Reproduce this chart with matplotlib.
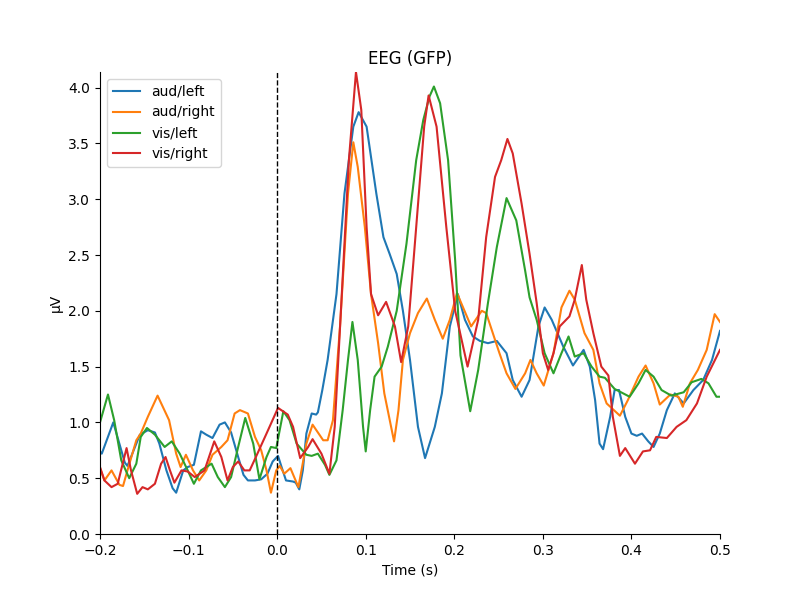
import matplotlib
matplotlib.use("Agg")
import matplotlib.pyplot as plt

# GFP traces (time in s, value in uV)
aud_left_t = [-0.200, -0.198, -0.185, -0.172, -0.169, -0.155, -0.146, -0.138, -0.133, -0.125,
              -0.118, -0.114, -0.106, -0.101, -0.094, -0.086, -0.080, -0.073, -0.065, -0.059,
              -0.052, -0.044, -0.038, -0.033, -0.025, -0.018, -0.011, -0.005, 0.001, 0.005,
              0.010, 0.018, 0.021, 0.025, 0.029, 0.033, 0.039, 0.044, 0.046, 0.051,
              0.057, 0.067, 0.076, 0.086, 0.092, 0.101, 0.112, 0.120, 0.127, 0.135,
              0.142, 0.150, 0.159, 0.167, 0.178, 0.186, 0.195, 0.204, 0.212, 0.221,
              0.229, 0.238, 0.248, 0.259, 0.266, 0.276, 0.285, 0.295, 0.302, 0.310,
              0.323, 0.334, 0.346, 0.353, 0.359, 0.364, 0.368, 0.376, 0.381, 0.386,
              0.393, 0.400, 0.406, 0.412, 0.419, 0.425, 0.432, 0.440, 0.449, 0.459,
              0.470, 0.481, 0.491, 0.500]
aud_left_v = [0.74, 0.72, 1.00, 0.64, 0.61, 0.89, 0.93, 0.91, 0.81, 0.57,
              0.41, 0.37, 0.57, 0.60, 0.62, 0.92, 0.89, 0.86, 0.98, 1.00,
              0.91, 0.69, 0.53, 0.48, 0.48, 0.49, 0.54, 0.65, 0.70, 0.60,
              0.48, 0.47, 0.46, 0.40, 0.57, 0.90, 1.08, 1.07, 1.09, 1.29,
              1.56, 2.15, 3.05, 3.65, 3.78, 3.65, 3.05, 2.66, 2.51, 2.33,
              2.00, 1.56, 0.96, 0.68, 0.96, 1.26, 1.86, 2.15, 1.92, 1.77,
              1.73, 1.71, 1.73, 1.62, 1.38, 1.23, 1.38, 1.86, 2.03, 1.92,
              1.68, 1.51, 1.65, 1.50, 1.20, 0.81, 0.76, 1.05, 1.29, 1.29,
              1.05, 0.90, 0.88, 0.90, 0.83, 0.78, 0.90, 1.11, 1.26, 1.17,
              1.29, 1.38, 1.56, 1.82]

aud_right_t = [-0.200, -0.195, -0.187, -0.178, -0.174, -0.169, -0.159, -0.154, -0.146, -0.135,
               -0.122, -0.114, -0.109, -0.103, -0.095, -0.088, -0.080, -0.073, -0.063, -0.056,
               -0.048, -0.042, -0.033, -0.025, -0.018, -0.012, -0.007, -0.001, 0.003, 0.008,
               0.015, 0.024, 0.033, 0.040, 0.052, 0.057, 0.063, 0.071, 0.080, 0.086,
               0.091, 0.099, 0.106, 0.114, 0.121, 0.132, 0.137, 0.142, 0.150, 0.159,
               0.169, 0.178, 0.187, 0.195, 0.203, 0.219, 0.231, 0.236, 0.251, 0.259,
               0.269, 0.280, 0.286, 0.293, 0.301, 0.312, 0.321, 0.330, 0.336, 0.347,
               0.357, 0.364, 0.372, 0.387, 0.396, 0.408, 0.416, 0.425, 0.432, 0.444,
               0.453, 0.458, 0.466, 0.475, 0.485, 0.494, 0.500]
aud_right_v = [0.59, 0.48, 0.57, 0.44, 0.43, 0.57, 0.84, 0.90, 1.05, 1.24,
               1.02, 0.72, 0.60, 0.71, 0.57, 0.48, 0.57, 0.71, 0.78, 0.84,
               1.08, 1.11, 1.08, 0.87, 0.75, 0.57, 0.37, 0.57, 0.61, 0.54,
               0.59, 0.42, 0.81, 0.98, 0.84, 0.84, 1.02, 1.86, 3.05, 3.51,
               3.29, 2.75, 2.15, 1.71, 1.26, 0.83, 1.11, 1.56, 1.80, 1.98,
               2.11, 1.92, 1.75, 1.92, 2.16, 1.86, 2.00, 1.98, 1.62, 1.44,
               1.30, 1.44, 1.56, 1.44, 1.33, 1.62, 2.03, 2.18, 2.10, 1.80,
               1.65, 1.35, 1.17, 1.06, 1.20, 1.41, 1.51, 1.35, 1.16, 1.25,
               1.23, 1.14, 1.35, 1.47, 1.65, 1.97, 1.90]

vis_left_t = [-0.200, -0.191, -0.184, -0.176, -0.167, -0.159, -0.154, -0.147, -0.138, -0.127,
              -0.119, -0.110, -0.101, -0.094, -0.086, -0.074, -0.067, -0.059, -0.052, -0.044,
              -0.036, -0.027, -0.020, -0.012, -0.007, -0.001, 0.007, 0.014, 0.022, 0.033,
              0.039, 0.046, 0.054, 0.059, 0.067, 0.074, 0.080, 0.085, 0.091, 0.097,
              0.100, 0.105, 0.110, 0.118, 0.125, 0.135, 0.146, 0.157, 0.165, 0.172,
              0.177, 0.184, 0.193, 0.201, 0.207, 0.218, 0.227, 0.238, 0.248, 0.259,
              0.270, 0.280, 0.285, 0.293, 0.302, 0.312, 0.321, 0.329, 0.336, 0.346,
              0.355, 0.364, 0.370, 0.381, 0.398, 0.408, 0.416, 0.425, 0.434, 0.445,
              0.459, 0.468, 0.479, 0.487, 0.496, 0.500]
vis_left_v = [1.00, 1.25, 1.02, 0.66, 0.50, 0.63, 0.87, 0.95, 0.89, 0.78,
              0.83, 0.72, 0.57, 0.45, 0.57, 0.63, 0.51, 0.42, 0.51, 0.78,
              1.04, 0.81, 0.49, 0.69, 0.78, 0.77, 1.10, 1.02, 0.81, 0.71,
              0.70, 0.72, 0.62, 0.53, 0.66, 1.11, 1.56, 1.90, 1.56, 0.96,
              0.74, 1.11, 1.41, 1.50, 1.68, 2.00, 2.60, 3.35, 3.71, 3.92,
              4.01, 3.86, 3.35, 2.45, 1.60, 1.10, 1.47, 2.07, 2.57, 3.01,
              2.81, 2.36, 2.12, 1.92, 1.62, 1.44, 1.62, 1.77, 1.59, 1.62,
              1.50, 1.41, 1.40, 1.30, 1.23, 1.35, 1.47, 1.41, 1.29, 1.24,
              1.27, 1.36, 1.39, 1.35, 1.23, 1.23]

vis_right_t = [-0.200, -0.195, -0.187, -0.180, -0.170, -0.165, -0.158, -0.152, -0.146, -0.138,
               -0.131, -0.126, -0.121, -0.116, -0.108, -0.101, -0.093, -0.082, -0.071, -0.063,
               -0.056, -0.050, -0.044, -0.037, -0.031, -0.024, -0.012, 0.001, 0.012, 0.018,
               0.026, 0.035, 0.040, 0.050, 0.059, 0.065, 0.073, 0.081, 0.089, 0.095,
               0.101, 0.106, 0.114, 0.123, 0.133, 0.140, 0.148, 0.157, 0.166, 0.171,
               0.180, 0.191, 0.201, 0.215, 0.227, 0.236, 0.246, 0.253, 0.260, 0.266,
               0.276, 0.285, 0.293, 0.300, 0.306, 0.312, 0.319, 0.330, 0.336, 0.344,
               0.349, 0.357, 0.366, 0.374, 0.379, 0.387, 0.393, 0.404, 0.413, 0.421,
               0.428, 0.440, 0.451, 0.462, 0.474, 0.485, 0.500]
vis_right_v = [0.60, 0.48, 0.42, 0.45, 0.77, 0.57, 0.36, 0.42, 0.40, 0.45,
               0.63, 0.69, 0.57, 0.46, 0.57, 0.56, 0.51, 0.57, 0.83, 0.69,
               0.48, 0.60, 0.65, 0.57, 0.57, 0.69, 0.90, 1.13, 1.07, 0.96,
               0.68, 0.78, 0.85, 0.72, 0.54, 0.96, 2.15, 3.35, 4.14, 3.80,
               2.75, 2.15, 1.96, 2.08, 1.86, 1.54, 1.86, 2.75, 3.65, 3.93,
               3.65, 2.75, 2.00, 1.50, 1.92, 2.66, 3.20, 3.35, 3.54, 3.41,
               2.96, 2.51, 2.07, 1.62, 1.47, 1.62, 1.86, 1.95, 2.10, 2.41,
               2.10, 1.80, 1.50, 1.42, 1.05, 0.70, 0.77, 0.63, 0.74, 0.75,
               0.87, 0.86, 0.96, 1.02, 1.17, 1.41, 1.65]

conditions = ["aud/left", "aud/right", "vis/left", "vis/right"]
times = [aud_left_t, aud_right_t, vis_left_t, vis_right_t]
values = [aud_left_v, aud_right_v, vis_left_v, vis_right_v]

fig, ax = plt.subplots(figsize=(8, 6), dpi=100)
for name, t, v in zip(conditions, times, values):
    ax.plot(t, v, label=name, linewidth=1.5, solid_joinstyle="round")

ax.axvline(0, color="k", linestyle="--", linewidth=1)
ax.set_xlim(-0.2, 0.5)
ax.set_ylim(0, 4.14)
ax.set_xlabel("Time (s)")
ax.set_ylabel("µV")
ax.set_title("EEG (GFP)")
ax.spines["top"].set_visible(False)
ax.spines["right"].set_visible(False)
ax.legend(loc="upper left")

fig.savefig("out.png", dpi=100)
